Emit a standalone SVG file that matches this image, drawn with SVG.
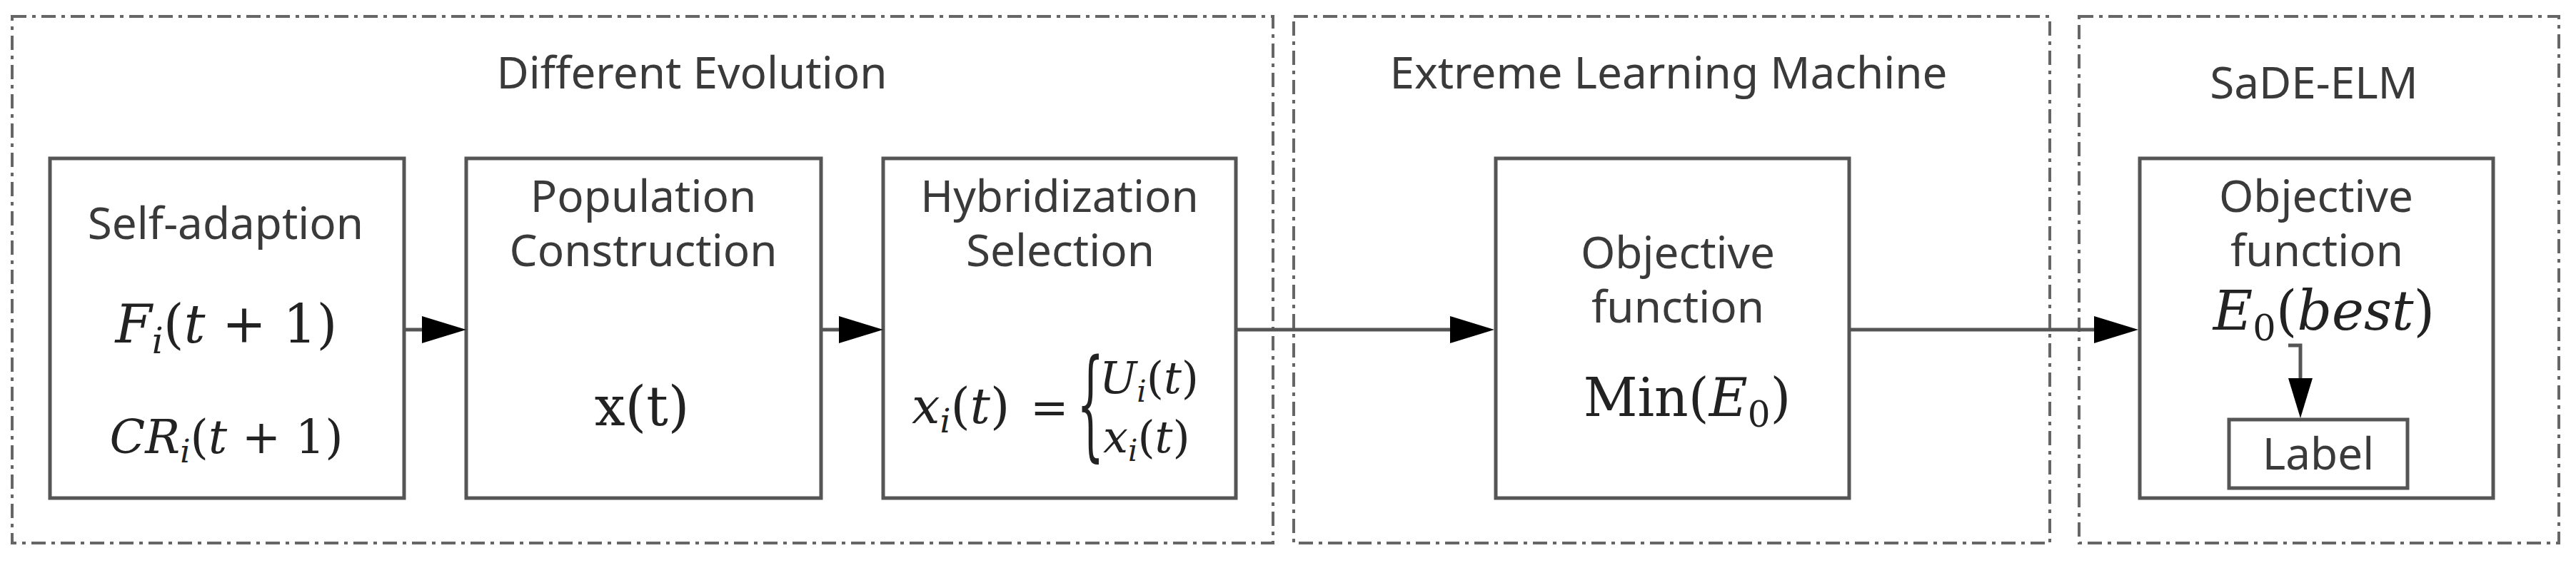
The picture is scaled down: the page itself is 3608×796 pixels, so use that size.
<svg xmlns="http://www.w3.org/2000/svg" width="3608" height="796" viewBox="0 0 3608 796">
<defs>
<style>
.grp{fill:none;stroke:#666;stroke-width:4;stroke-dasharray:20 8 5 8;}
.node{fill:#fff;stroke:#555;stroke-width:5;}
.lbl{font-family:"Noto Sans","Open Sans","Liberation Sans",sans-serif;font-size:62px;fill:#3a3a3a;text-anchor:middle;}
.ttl{font-family:"Noto Sans","Open Sans","Liberation Sans",sans-serif;font-size:62px;fill:#3a3a3a;text-anchor:middle;}
.math{font-family:"DejaVu Serif","Liberation Serif",serif;fill:#222;}
.it{font-style:italic;}
.conn{fill:none;stroke:#555;stroke-width:5;}
</style>
<marker id="ah" viewBox="0 0 62 38" markerWidth="62" markerHeight="38" refX="42" refY="19" markerUnits="userSpaceOnUse" orient="auto">
<path d="M0,0 L62,19 L0,38 z" fill="#000"/>
</marker>
<marker id="ahs" viewBox="0 0 56 34" markerWidth="56" markerHeight="34" refX="36" refY="17" markerUnits="userSpaceOnUse" orient="auto">
<path d="M0,0 L56,17 L0,34 z" fill="#000"/>
</marker>
</defs>
<rect width="3608" height="796" fill="#fff"/>

<g id="group-de">
<rect class="grp" x="17" y="23" width="1766" height="738"/>
<text class="ttl" x="969" y="124">Different Evolution</text>
</g>
<g id="group-elm">
<rect class="grp" x="1812" y="23" width="1059" height="738"/>
<text class="ttl" x="2337" y="124">Extreme Learning Machine</text>
</g>
<g id="group-sade">
<rect class="grp" x="2912" y="23" width="672" height="738"/>
<text class="ttl" x="3241" y="138">SaDE-ELM</text>
</g>

<g id="node-self-adaption">
<rect class="node" x="70" y="222" width="496" height="476"/>
<text class="lbl" x="316" y="335">Self-adaption</text>
<text class="math" x="317" y="480" font-size="74" text-anchor="middle"><tspan class="it">F</tspan><tspan class="it" font-size="50" dy="15">i</tspan><tspan dy="-15">(</tspan><tspan class="it">t</tspan> + 1)</text>
<text class="math" x="317" y="635" font-size="65" text-anchor="middle"><tspan class="it">CR</tspan><tspan class="it" font-size="45" dy="13">i</tspan><tspan dy="-13">(</tspan><tspan class="it">t</tspan> + 1)</text>
</g>

<g id="node-population">
<rect class="node" x="653" y="222" width="497" height="476"/>
<text class="lbl" x="901" y="297">Population</text>
<text class="lbl" x="901" y="373">Construction</text>
<text class="math" x="899" y="596" font-size="76" text-anchor="middle">x(t)</text>
</g>

<g id="node-hybridization">
<rect class="node" x="1237" y="222" width="494" height="476"/>
<text class="lbl" x="1484" y="297">Hybridization</text>
<text class="lbl" x="1485" y="373">Selection</text>
<text class="math" x="1277" y="593" font-size="70"><tspan class="it">x</tspan><tspan class="it" font-size="47" dy="13">i</tspan><tspan dy="-13">(</tspan><tspan class="it">t</tspan>)</text>
<text class="math" x="1443" y="593" font-size="64">=</text>
<text class="math" font-size="168" transform="translate(1508,623) scale(0.36,1)">{</text>
<text class="math" x="1540" y="551" font-size="62"><tspan class="it">U</tspan><tspan class="it" font-size="42" dy="12">i</tspan><tspan dy="-12">(</tspan><tspan class="it">t</tspan>)</text>
<text class="math" x="1545" y="634" font-size="62"><tspan class="it">x</tspan><tspan class="it" font-size="42" dy="12">i</tspan><tspan dy="-12">(</tspan><tspan class="it">t</tspan>)</text>
</g>

<g id="node-objective-elm">
<rect class="node" x="2095" y="222" width="495" height="476"/>
<text class="lbl" x="2350" y="376">Objective</text>
<text class="lbl" x="2350" y="452">function</text>
<text class="math" x="2363" y="583" font-size="74" text-anchor="middle">Min(<tspan class="it">E</tspan><tspan font-size="50" dy="15">0</tspan><tspan dy="-15">)</tspan></text>
</g>

<g id="node-objective-sade">
<rect class="node" x="2997" y="222" width="495" height="476"/>
<text class="lbl" x="3244" y="297">Objective</text>
<text class="lbl" x="3245" y="373">function</text>
<text class="math" x="3255" y="462" font-size="76" text-anchor="middle"><tspan class="it">E</tspan><tspan font-size="51" dy="15">0</tspan><tspan dy="-15">(</tspan><tspan class="it">best</tspan>)</text>
</g>

<g id="node-label">
<rect class="node" x="3122" y="588" width="250" height="96" stroke-width="4"/>
<text class="lbl" x="3247" y="658" font-size="58">Label</text>
</g>

<g id="connectors">
<line class="conn" x1="566" y1="462" x2="633" y2="462" marker-end="url(#ah)"/>
<line class="conn" x1="1150" y1="462" x2="1217" y2="462" marker-end="url(#ah)"/>
<line class="conn" x1="1731" y1="462" x2="2073" y2="462" marker-end="url(#ah)"/>
<line class="conn" x1="2590" y1="462" x2="2975" y2="462" marker-end="url(#ah)"/>
<path class="conn" d="M3205,484 L3222,484 L3222,566" stroke-width="4" marker-end="url(#ahs)"/>
</g>
</svg>
